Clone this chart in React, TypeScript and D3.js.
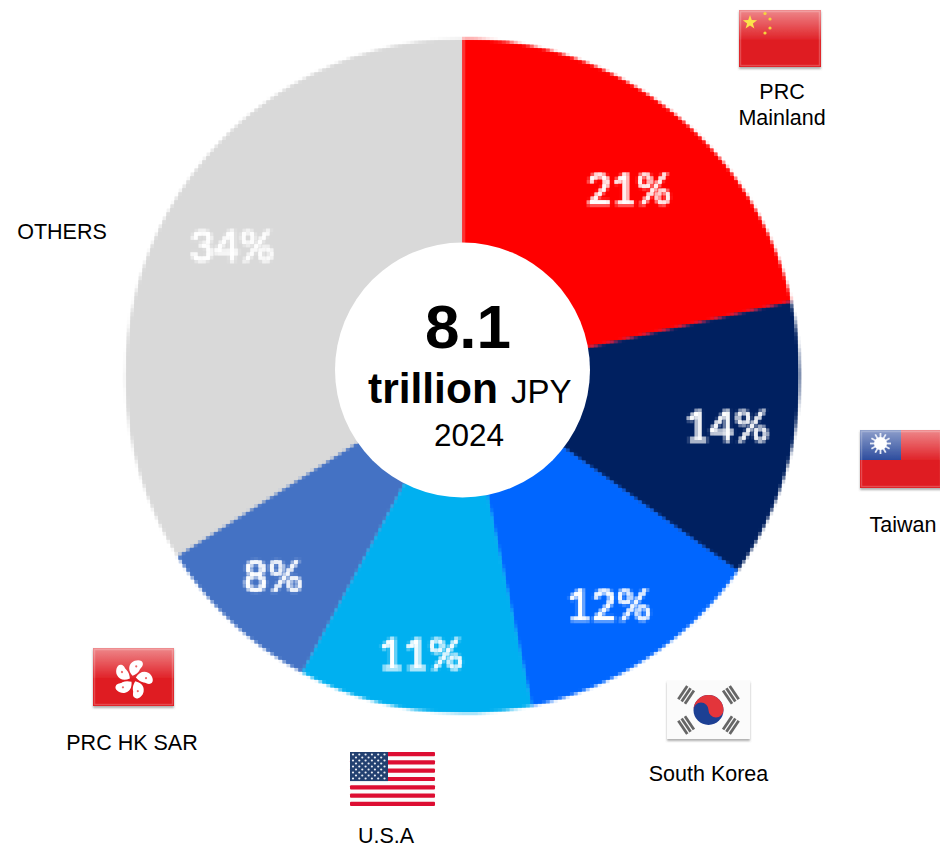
import React from "react";
import * as d3 from "d3";

const categories = ["PRC Mainland", "Taiwan", "South Korea", "U.S.A", "PRC HK SAR", "OTHERS"];
const shares = [21.45, 13.35, 11.9, 11.2, 8.15, 33.95];
const shareLabels = ["21%", "14%", "12%", "11%", "8%", "34%"];
const colors = ["#ff0000", "#002060", "#0066ff", "#00b0f0", "#4472c4", "#d9d9d9"];
const labelPos: [number, number][] = [[629, 188], [727, 425], [609, 604], [421, 653], [273, 575], [232, 245]];

const W = 940, H = 848, CX = 462.5, CY = 376, R = 337;

const pie = d3.pie<number>().sort(null).value((d) => d);
const arc = d3.arc<d3.PieArcDatum<number>>().innerRadius(0).outerRadius(R);

const hkPetal = "M-1 -3 C-6 -7 -7 -12 -4 -16 C-1 -20 6 -21 7 -17 C8 -14 5 -12 5 -10 C4 -7 2 -5 -1 -3Z";

function Gloss({ x, y, w, h }: { x: number; y: number; w: number; h: number }) {
  return (
    <>
      <rect x={x} y={y} width={w} height={h * 0.52} fill="url(#gloss)" />
      <rect x={x + 1.5} y={y + 1.5} width={w - 3} height={h - 3} fill="none" stroke="#fff" strokeOpacity={0.22} strokeWidth={1.5} />
    </>
  );
}

function Base({ x, y, w, h, fill }: { x: number; y: number; w: number; h: number; fill: string }) {
  return (
    <>
      <rect x={x} y={y + 1.5} width={w} height={h + 0.5} fill="#777" opacity={0.6} filter="url(#soft)" />
      <rect x={x} y={y} width={w} height={h} fill={fill} />
    </>
  );
}

function ChinaFlag({ x, y }: { x: number; y: number }) {
  const w = 82, h = 57;
  return (
    <g filter="url(#flagBlur)">
      <Base x={x} y={y} w={w} h={h} fill="#df1a20" />
      <Gloss x={x} y={y} w={w} h={h} />
      <path
        d={d3.range(10).map((i) => {
          const a = (i * Math.PI) / 5 - Math.PI / 2;
          const r = i % 2 ? 3 : 7.5;
          return `${i ? "L" : "M"}${x + 11 + r * Math.cos(a)} ${y + 12.5 + r * Math.sin(a)}`;
        }).join("") + "Z"}
        fill="#fbe44c"
      />
      {[[26, 3.5], [31, 9], [31, 18], [26, 23]].map(([a, b], i) => (
        <circle key={i} cx={x + a} cy={y + b} r={1.6} fill="#f5d53c" />
      ))}
    </g>
  );
}

function TaiwanFlag({ x, y }: { x: number; y: number }) {
  const w = 82, h = 58;
  const sx = x + 20.5, sy = y + 13.5;
  return (
    <g filter="url(#flagBlur)">
      <Base x={x} y={y} w={w} h={h} fill="#df1a20" />
      <rect x={x} y={y} width={41} height={30} fill="#24459a" />
      <Gloss x={x} y={y} w={w} h={h} />
      {d3.range(12).map((i) => {
        const a = (i * Math.PI) / 6;
        return (
          <line key={i} x1={sx} y1={sy} x2={sx + 10.5 * Math.cos(a)} y2={sy + 10.5 * Math.sin(a)} stroke="#e8ecf6" strokeWidth={1.8} />
        );
      })}
      <circle cx={sx} cy={sy} r={6.5} fill="#fff" />
    </g>
  );
}

function KoreaFlag({ x, y }: { x: number; y: number }) {
  const w = 83, h = 58;
  const cx = x + 41.5, cy = y + 29, r = 15;
  const bars = [-56, 56, 124, -124];
  return (
    <g filter="url(#flagBlur)">
      <Base x={x} y={y} w={w} h={h} fill="#fbfbfb" />
      {bars.map((deg, i) => (
        <g key={i} transform={`translate(${cx},${cy}) rotate(${deg}) translate(0,-27)`}>
          {[-4, 0, 4].map((dy) => (
            <rect key={dy} x={-8} y={dy - 1.4} width={16} height={2.8} fill="#666" />
          ))}
        </g>
      ))}
      <circle cx={cx} cy={cy} r={r} fill="#1f3f94" />
      <path
        d={`M${cx - r} ${cy} A${r} ${r} 0 0 1 ${cx + r} ${cy} A${r / 2} ${r / 2} 0 0 1 ${cx} ${cy} A${r / 2} ${r / 2} 0 0 0 ${cx - r} ${cy}Z`}
        fill="#e3343a"
      />
    </g>
  );
}

function UsaFlag({ x, y }: { x: number; y: number }) {
  const w = 85, h = 54;
  const sh = h / 13;
  return (
    <g filter="url(#flagBlur)">
      <rect x={x} y={y} width={w} height={h} rx={2} fill="#fbfbfb" />
      {d3.range(0, 13, 2).map((i) => (
        <rect key={i} x={x} y={y + i * sh} width={w} height={sh} rx={1} fill="#dd1030" />
      ))}
      <rect x={x} y={y} width={38} height={sh * 7} fill="#24406f" />
      {d3.range(9).map((r) =>
        d3.range(r % 2 ? 5 : 6).map((c) => (
          <circle key={`${r}-${c}`} cx={x + (r % 2 ? 6 : 3) + c * 6.3} cy={y + 2.5 + r * 3} r={1.1} fill="#e8ecf4" />
        ))
      )}
    </g>
  );
}

function HkFlag({ x, y }: { x: number; y: number }) {
  const w = 81, h = 58;
  const cx = x + 40, cy = y + 31;
  return (
    <g filter="url(#flagBlur)">
      <Base x={x} y={y} w={w} h={h} fill="#df1a20" />
      <Gloss x={x} y={y} w={w} h={h} />
      {d3.range(5).map((i) => (
        <g key={i} transform={`translate(${cx},${cy}) rotate(${i * 72 + 10})`}>
          <path d={hkPetal} fill="#fff" />
          <circle cx={1} cy={-13} r={1.1} fill="#e66" />
        </g>
      ))}
    </g>
  );
}

const labelStyle = { fontFamily: "Liberation Sans, Arial, sans-serif", fontSize: 21.5, fill: "#000" };

export default function App() {
  const arcs = pie(shares);
  return (
    <svg
      width={W}
      height={H}
      viewBox={`0 0 ${W} ${H}`}
      style={{ position: "absolute", left: 0, top: 0, display: "block", background: "#fff" }}
    >
      <defs>
        <linearGradient id="gloss" x1="0" y1="0" x2="0" y2="1">
          <stop offset="0" stopColor="#fff" stopOpacity={0.48} />
          <stop offset="1" stopColor="#fff" stopOpacity={0.04} />
        </linearGradient>
        <filter id="soft" x="-10%" y="-10%" width="120%" height="120%">
          <feGaussianBlur stdDeviation={0.8} />
        </filter>
        <filter id="flagBlur" x="-10%" y="-10%" width="120%" height="120%">
          <feGaussianBlur stdDeviation={0.55} />
        </filter>
        {/* mosaic: the reference's pie is an enlarged low-resolution bitmap, with 4px cells */}
        <filter
          id="mosaic"
          filterUnits="userSpaceOnUse"
          primitiveUnits="userSpaceOnUse"
          x={0}
          y={0}
          width={W}
          height={H}
          colorInterpolationFilters="sRGB"
        >
          <feGaussianBlur in="SourceGraphic" stdDeviation={1.1} result="avg" />
          <feFlood x={3} y={1} width={2} height={2} floodColor="#000" result="dot" />
          <feComposite in="dot" in2="dot" operator="over" x={2} y={0} width={4} height={4} result="cell" />
          <feTile in="cell" x={0} y={0} width={W} height={H} result="grid" />
          <feComposite in="avg" in2="grid" operator="in" result="sampled" />
          <feMorphology in="sampled" operator="dilate" radius={1} />
        </filter>
      </defs>

      <g filter="url(#mosaic)">
        <g transform={`translate(${CX},${CY})`}>
          {arcs.map((a, i) => (
            <path key={categories[i]} d={arc(a) ?? ""} fill={colors[i]} />
          ))}
        </g>
        {shareLabels.map((t, i) => (
          <text
            key={t}
            x={labelPos[i][0]}
            y={labelPos[i][1]}
            textAnchor="middle"
            dominantBaseline="central"
            fontFamily="Lato, Carlito, sans-serif"
            fontWeight={700}
            fontSize={43}
            fill="#fff"
          >
            {t}
          </text>
        ))}
      </g>

      <circle cx={462.5} cy={370} r={127.5} fill="#fff" />

      <g fontFamily="Liberation Sans, Arial, sans-serif" fill="#000">
        <text x={468} y={348} fontSize={62} fontWeight={700} textAnchor="middle">8.1</text>
        <text x={368} y={403} fontSize={42.5} fontWeight={700}>trillion</text>
        <text x={511} y={403} fontSize={33}>JPY</text>
        <text x={469} y={446} fontSize={31.5} textAnchor="middle">2024</text>
      </g>

      <ChinaFlag x={739} y={10} />
      <TaiwanFlag x={860} y={430} />
      <KoreaFlag x={667} y={681} />
      <UsaFlag x={350} y={752} />
      <HkFlag x={93} y={648} />

      <g {...labelStyle} textAnchor="middle">
        <text x={782} y={99}>PRC</text>
        <text x={782} y={125}>Mainland</text>
        <text x={903} y={532}>Taiwan</text>
        <text x={708.5} y={781}>South Korea</text>
        <text x={386} y={843}>U.S.A</text>
        <text x={132} y={750}>PRC HK SAR</text>
        <text x={62} y={239}>OTHERS</text>
      </g>
    </svg>
  );
}
